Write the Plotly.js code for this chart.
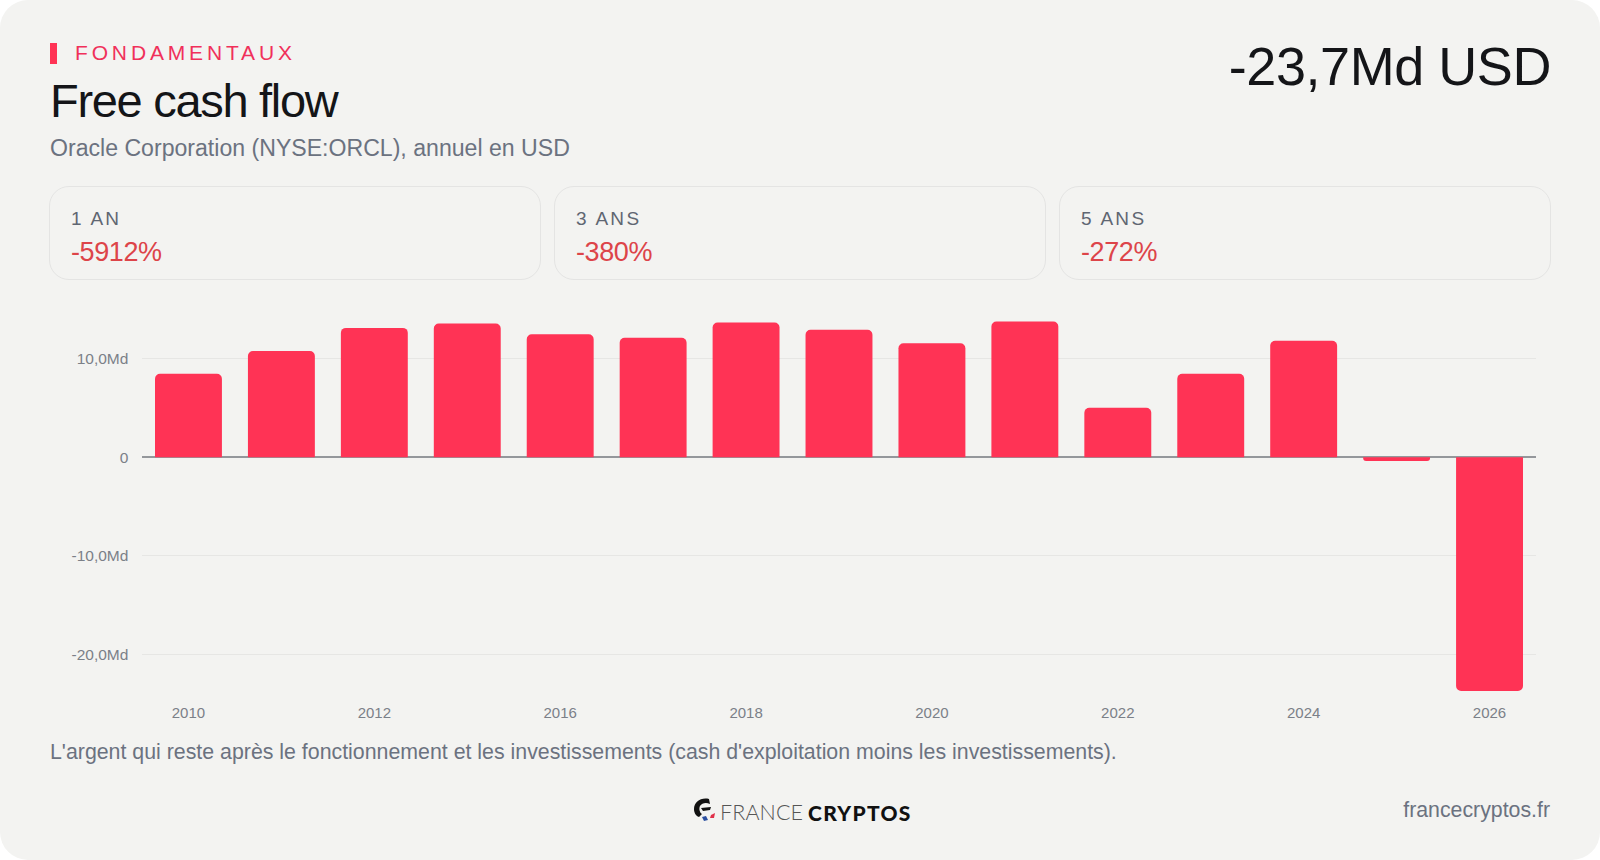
<!DOCTYPE html>
<html lang="fr">
<head>
<meta charset="utf-8">
<script src="https://cdn.plot.ly/plotly-3.0.1.min.js"></script>
<style>
html,body{margin:0;padding:0;background:#fff;width:1600px;height:860px;overflow:hidden;font-family:"Liberation Sans",Arial,sans-serif;}
#card{position:absolute;left:0;top:0;width:1600px;height:860px;background:#f3f3f1;border-radius:28px;overflow:hidden;}
#chart{position:absolute;left:0;top:0;width:1600px;height:860px;}
.t{position:absolute;white-space:nowrap;line-height:1;}
.box{position:absolute;top:186px;width:490px;height:92px;border:1.5px solid #e4e4e3;border-radius:20px;}
.lab{position:absolute;left:21px;top:22px;font-size:19px;letter-spacing:2.3px;color:#5f6672;line-height:1;white-space:nowrap;}
.val{position:absolute;left:21px;top:52px;font-size:27px;letter-spacing:-.4px;color:#dd4449;line-height:1;white-space:nowrap;}
</style>
</head>
<body>
<div id="card">
  <div id="chart"></div>
  <div style="position:absolute;left:50px;top:43px;width:7px;height:21px;background:#ff3355"></div>
  <div class="t" id="eyebrow" style="left:75px;top:42px;font-size:21px;letter-spacing:3.85px;color:#f0305a">FONDAMENTAUX</div>
  <div class="t" id="title" style="left:50px;top:77px;font-size:47px;letter-spacing:-1.3px;color:#141518">Free cash flow</div>
  <div class="t" id="sub" style="left:50px;top:137px;font-size:23.1px;color:#6b7280">Oracle Corporation (NYSE:ORCL), annuel en USD</div>
  <div class="t" id="big" style="right:49px;top:39px;font-size:54px;letter-spacing:-.45px;color:#141518">-23,7Md USD</div>
  <div class="box" style="left:49px"><div class="lab">1 AN</div><div class="val">-5912%</div></div>
  <div class="box" style="left:554px"><div class="lab">3 ANS</div><div class="val">-380%</div></div>
  <div class="box" style="left:1059px"><div class="lab">5 ANS</div><div class="val">-272%</div></div>
  <div class="t" id="note" style="left:50px;top:742px;font-size:21.33px;color:#6b7280">L'argent qui reste après le fonctionnement et les investissements (cash d'exploitation moins les investissements).</div>
  <svg style="position:absolute;left:692px;top:797px" width="28" height="28" viewBox="0 0 28 28">
    <path d="M17 2 C9 0 2 5 2 12 C2 16 4 19 7 20 L10 17 C7 15 7 11 8 9 C10 6 14 5 18 7 Z" fill="#111"/>
    <path d="M9 11 L19 10 L18 13 L11 14 Z" fill="#111"/>
    <path d="M10 20 L14 19 L16 23 L12 24 Z" fill="#2b4fa0"/>
    <path d="M19 18 L23 16 L22 21 L18 21 Z" fill="#e0304a"/>
  </svg>
  <div class="t" style="left:720px;top:802px;font-family:Lato,sans-serif;font-weight:300;font-size:21.5px;letter-spacing:.1px;color:#555">FRANCE</div>
  <div class="t" style="left:808px;top:802px;font-family:Lato,sans-serif;font-weight:900;font-size:21px;letter-spacing:1.3px;color:#111">CRYPTOS</div>
  <div class="t" id="site" style="right:50px;top:800px;font-size:21.3px;color:#6b7280">francecryptos.fr</div>
</div>
<script>
const categories = ["2010","2011","2012","2013","2016","2017","2018","2019","2020","2021","2022","2023","2024","2025","2026"];
const freeCashFlow = [8.45,10.75,13.1,13.55,12.45,12.1,13.65,12.9,11.55,13.75,5.0,8.45,11.8,-0.4,-23.7];
const xTickLabels = ["2010","2012","2016","2018","2020","2022","2024","2026"];
const yTickValues = [-20,-10,0,10];
const yTickLabels = ["-20,0Md","-10,0Md","0","10,0Md"];

Plotly.newPlot('chart',[{
  type:'bar',
  x:categories,
  y:freeCashFlow,
  marker:{color:'#ff3355',line:{width:0}},
  hoverinfo:'x+y'
}],{
  width:1600,height:860,
  paper_bgcolor:'rgba(0,0,0,0)',plot_bgcolor:'rgba(0,0,0,0)',
  margin:{l:142,r:64,t:318.8,b:166.1,pad:0},
  bargap:0.28,
  barcornerradius:5,
  showlegend:false,
  font:{family:'"Liberation Sans",Arial,sans-serif',size:15,color:'#7b8088'},
  xaxis:{type:'category',categoryorder:'array',categoryarray:categories,
    tickmode:'array',tickvals:xTickLabels,ticktext:xTickLabels,
    ticks:'outside',ticklen:5,tickcolor:'rgba(0,0,0,0)',
    showgrid:false,showline:false,zeroline:false,
    tickfont:{size:15,color:'#7b8088'},automargin:false},
  yaxis:{range:[-24,14],tickmode:'array',tickvals:yTickValues,ticktext:yTickLabels,
    ticks:'outside',ticklen:9.5,tickcolor:'rgba(0,0,0,0)',
    showgrid:true,gridcolor:'#e6e6e4',gridwidth:1,
    zeroline:true,zerolinecolor:'#94979b',zerolinewidth:1.5,showline:false,
    tickfont:{size:15.5,color:'#7b8088'},automargin:false}
},{displayModeBar:false,staticPlot:true});
</script>
</body>
</html>
